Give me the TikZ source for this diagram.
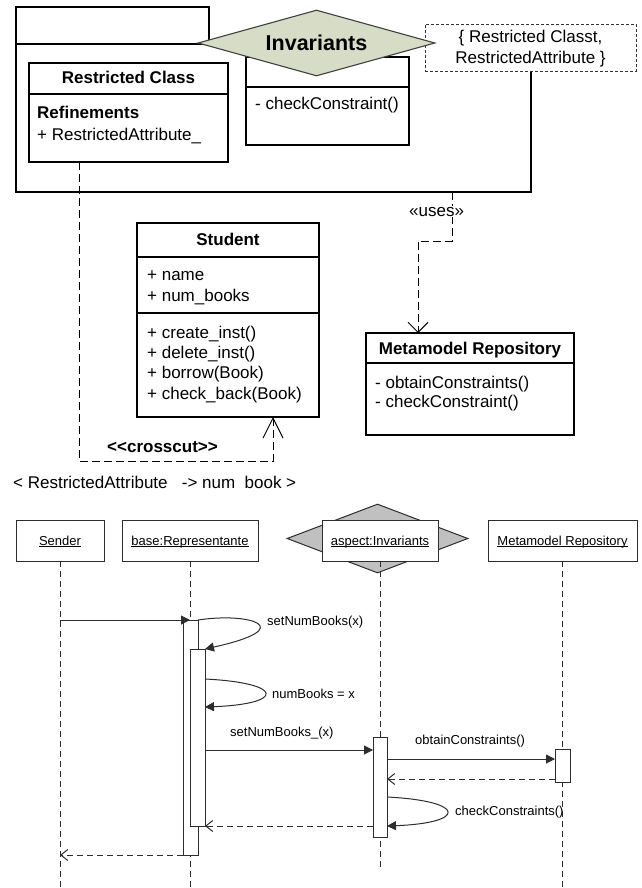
\documentclass[tikz,border=0pt]{standalone}
\usepackage{fontspec}
\setmainfont{Liberation Sans}
\usetikzlibrary{arrows.meta,shapes.geometric}
\definecolor{invfill}{RGB}{214,220,198}
\definecolor{aspfill}{RGB}{192,192,192}
\definecolor{seqline}{RGB}{45,45,45}
% underlined object name with the rule close under the baseline
\newcommand\ulname[1]{\setbox0\hbox{#1}\rlap{\copy0}\rule[-1.8pt]{\wd0}{0.7pt}}

\begin{document}
\begin{tikzpicture}[x=1pt,y=-1pt,
  cls/.style={draw=black, line width=1.1pt, fill=white, inner sep=0pt, outer sep=0pt, anchor=north west},
  txt/.style={inner sep=0pt, anchor=base west, font=\fontsize{17}{20}\selectfont},
  txtbold/.style={inner sep=0pt, anchor=base west, font=\fontsize{17}{20}\selectfont\bfseries},
  stxt/.style={inner sep=0pt, anchor=base west, font=\fontsize{13}{15}\selectfont},
  dep/.style={draw=black, line width=1pt, dash pattern=on 8pt off 4pt},
  life/.style={draw=seqline, line width=0.9pt, dash pattern=on 6pt off 4pt},
  msg/.style={draw=seqline, line width=1pt, -{Triangle[length=9pt,width=9pt]}},
  ret/.style={draw=seqline, line width=1pt, dash pattern=on 6pt off 4pt, -{Straight Barb[length=7pt,width=11pt]}},
  act/.style={draw=seqline, line width=1pt, fill=white, inner sep=0pt, outer sep=0pt, anchor=north west, minimum width=15pt},
  head/.style={draw=seqline, line width=1pt, fill=white, inner sep=0pt, outer sep=0pt, anchor=north west,
    minimum height=41pt, font=\fontsize{13}{15}\selectfont, text height=9.5pt, text depth=0pt},
]
\useasboundingbox (0,0) rectangle (641,888);

% ---------- aspect package ----------
\node[cls, minimum width=515pt, minimum height=148pt] (body) at (16,44) {};
\node[cls, minimum width=193pt, minimum height=37pt] (tab) at (16,7) {};

\node[cls, minimum width=199pt, minimum height=99pt] (rc) at (29,63) {};
\draw[line width=1.1pt] (29,94) -- (228,94);
\node[txtbold, anchor=base] at (128.5,84) {Restricted Class};
\node[txtbold] at (37,118) {Refinements};
\node[txt] at (37,140) {+ RestrictedAttribute\_};

\node[cls, minimum width=163pt, minimum height=88pt] (advice) at (246,57) {};
\draw[line width=1.1pt] (246,87) -- (409,87);
\node[txt] at (255,110) {- checkConstraint()};

\node[cls, draw=black!80, dash pattern=on 3pt off 2pt, line width=0.9pt,
      minimum width=211pt, minimum height=47pt] (note) at (425,24) {};
\node[txt, anchor=base] at (530.5,43) {\{ Restricted Classt,};
\node[txt, anchor=base] at (530.5,64) {RestrictedAttribute \}};

\node[diamond, draw=black!75, line width=1.1pt, fill=invfill, aspect=3.6,
      minimum width=237pt, minimum height=66pt, inner sep=0pt,
      font=\fontsize{21.5}{24}\selectfont\bfseries, text height=15.4pt, text depth=0pt]
      (inv) at (316.5,43) {Invariants};

% ---------- base class ----------
\node[cls, minimum width=182pt, minimum height=194pt] (st) at (137,223) {};
\draw[line width=1.1pt] (137,257) -- (319,257) (137,313) -- (319,313);
\node[txtbold, anchor=base] at (228,245) {Student};
\node[txt] at (147,280) {+ name};
\node[txt] at (147,301) {+ num\_books};
\node[txt] at (147,338) {+ create\_inst()};
\node[txt] at (147,358) {+ delete\_inst()};
\node[txt] at (147,378) {+ borrow(Book)};
\node[txt] at (147,399) {+ check\_back(Book)};

% ---------- repository ----------
\node[cls, minimum width=208pt, minimum height=102pt] (mm) at (366,333) {};
\draw[line width=1.1pt] (366,363) -- (574,363);
\node[txtbold, anchor=base] at (470,354) {Metamodel Repository};
\node[txt] at (375,388) {- obtainConstraints()};
\node[txt] at (375,407) {- checkConstraint()};

% ---------- dependencies ----------
\coordinate (cc1) at (79,461);
\coordinate (cc2) at (273,461);
\draw[dep, -{Straight Barb[length=20pt,width=20pt]}]
  (rc.south -| cc1) -- (cc1) -- (cc2) -- (cc2 |- st.south);
\node[txtbold] at (107,452) {<\kern0pt<crosscut>\kern0pt>};
\node[txt] at (13,488) {< RestrictedAttribute\ \ \ -> num\ \ book >};

\coordinate (u1) at (452,241);
\coordinate (u2) at (418,241);
\draw[dep, -{Straight Barb[length=10pt,width=20pt]}]
  (body.south -| u1) -- (u1) -- (u2) -- (u2 |- mm.north);
\node[txt, fill=white, inner sep=1pt] at (408,216) {«uses»};

% ---------- sequence diagram ----------
\node[diamond, draw=seqline, line width=1pt, fill=aspfill, minimum width=181pt,
      minimum height=69pt, inner sep=0pt] (aspd) at (377.5,538.5) {};
\node[head, minimum width=88pt] (sS) at (16,520) {\ulname{Sender}};
\node[head, minimum width=136pt] (sB) at (122,520) {\ulname{base:Representante}};
\node[head, minimum width=116pt] (sA) at (322,520) {\ulname{aspect:Invariants}};
\node[head, minimum width=149pt] (sM) at (488,520) {\ulname{Metamodel Repository}};

\coordinate (bot) at (0,888);
\coordinate (abot) at (0,867);
\draw[life] (sS.south) -- (sS.south |- bot);
\draw[life] (sB.south) -- (sB.south |- bot);
\draw[life] (sA.south) -- (sA.south |- abot);
\draw[life] (sM.south) -- (sM.south |- bot);

\node[act, minimum height=235pt] (b1) at (183,620) {};
\node[act, minimum height=177pt] (b2) at (190,649) {};
\node[act, minimum width=14pt, minimum height=100pt] (a1) at (373,737) {};
\node[act, minimum height=33pt] (m1) at (555,749) {};

\draw[msg] (sS.south |- b1.north) -- (sB.south |- b1.north);
\draw[msg] (b1.north east) .. controls +(52,-8) and +(95,-21) .. (b2.north east);
\node[stxt] at (267,625) {setNumBooks(x)};
\draw[msg] ([yshift=-30pt]b2.north east) .. controls +(80,4) and +(80,-3) .. ([yshift=-58pt]b2.north east);
\node[stxt] at (272,698.5) {numBooks = x};
\draw[msg] ([yshift=-101pt]b2.north east) -- ([yshift=-13pt]a1.north west);
\node[stxt] at (230,736) {setNumBooks\_(x)};
\draw[msg] ([yshift=-22pt]a1.north east) -- ([yshift=-10pt]m1.north west);
\node[stxt] at (415,744.5) {obtainConstraints()};
\draw[ret] ([yshift=-30pt]m1.north west) -- ([yshift=-42pt]a1.north east);
\draw[msg] ([yshift=-60pt]a1.north east) .. controls +(80,4) and +(80,-3) .. ([yshift=-89pt]a1.north east);
\node[stxt] at (455,815.5) {checkConstraints()};
\draw[ret] ([yshift=-89pt]a1.north west) -- (b2.south east);
\draw[ret] (b1.south west) -- (sS.south |- b1.south);
\end{tikzpicture}
\end{document}
